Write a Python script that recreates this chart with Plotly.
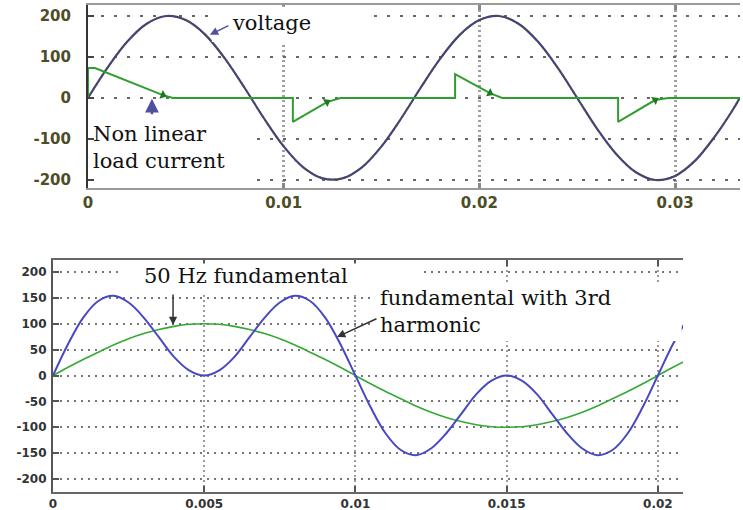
import plotly.graph_objects as go

# ---- upper panel: supply voltage and non-linear load current (60 Hz) ----
t_voltage = [0.000, 0.001, 0.002, 0.003, 0.004, 0.005, 0.006, 0.007, 0.008, 0.009,
             0.010, 0.011, 0.012, 0.013, 0.014, 0.015, 0.016, 0.017, 0.018, 0.019,
             0.020, 0.021, 0.022, 0.023, 0.024, 0.025, 0.026, 0.027, 0.028, 0.029,
             0.030, 0.031, 0.032, 0.033, 0.0333]
voltage = [0, 74, 137, 181, 200, 190, 154, 96, 25, -50,
           -118, -169, -196, -196, -169, -118, -50, 25, 96, 154,
           190, 200, 181, 137, 74, 0, -74, -137, -181, -200,
           -190, -154, -96, -25, 0]

t_current = [0.0, 0.0, 0.00036, 0.00383, 0.00434, 0.01047, 0.01047, 0.01221, 0.01290,
             0.01876, 0.01876, 0.02054, 0.02116, 0.02709, 0.02709, 0.02898, 0.02964, 0.0333]
current = [0, 73, 73, 7, 0, 0, -58, -10, 0,
           0, 58, 12, 0, 0, -58, -5, 0, 0]

# direction markers drawn on the current trace
t_current_arrow = [0.00383, 0.01221, 0.02054, 0.02898]
current_arrow = [7, -10, 12, -5]

top_x_ticks = [0, 0.01, 0.02, 0.03]
top_x_labels = ["0", "0.01", "0.02", "0.03"]
top_y_ticks = [-200, -100, 0, 100, 200]
top_y_labels = ["-200", "-100", "0", "100", "200"]

# ---- lower panel: 50 Hz fundamental and fundamental + 3rd harmonic ----
t_wave = [0.0000, 0.0005, 0.0010, 0.0015, 0.0020, 0.0025, 0.0030, 0.0035, 0.0040, 0.0045,
          0.0050, 0.0055, 0.0060, 0.0065, 0.0070, 0.0075, 0.0080, 0.0085, 0.0090, 0.0095,
          0.0100, 0.0105, 0.0110, 0.0115, 0.0120, 0.0125, 0.0130, 0.0135, 0.0140, 0.0145,
          0.0150, 0.0155, 0.0160, 0.0165, 0.0170, 0.0175, 0.0180, 0.0185, 0.0190, 0.0195,
          0.0200, 0.0205, 0.0210]
fundamental = [0, 16, 31, 45, 59, 71, 81, 89, 95, 99,
               100, 99, 95, 89, 81, 71, 59, 45, 31, 16,
               0, -16, -31, -45, -59, -71, -81, -89, -95, -99,
               -100, -99, -95, -89, -81, -71, -59, -45, -31, -16,
               0, 16, 31]
with_third = [0, 61, 112, 144, 154, 141, 112, 74, 36, 10,
              0, 10, 36, 74, 112, 141, 154, 144, 112, 61,
              0, -61, -112, -144, -154, -141, -112, -74, -36, -10,
              0, -10, -36, -74, -112, -141, -154, -144, -112, -61,
              0, 61, 112]

bot_x_ticks = [0, 0.005, 0.01, 0.015, 0.02]
bot_x_labels = ["0", "0.005", "0.01", "0.015", "0.02"]
bot_y_ticks = [-200, -150, -100, -50, 0, 50, 100, 150, 200]
bot_y_labels = ["-200", "-150", "-100", "-50", "0", "50", "100", "150", "200"]

fig = go.Figure()

# upper panel traces
fig.add_trace(go.Scatter(x=t_voltage, y=voltage, mode="lines", line_shape="spline",
                         line=dict(color="#4a4a4a", width=2.2), xaxis="x", yaxis="y",
                         hoverinfo="skip"))
fig.add_trace(go.Scatter(x=t_voltage, y=voltage, mode="lines", line_shape="spline",
                         line=dict(color="#3c3cc8", width=1.6, dash="2px,3px"),
                         xaxis="x", yaxis="y", hoverinfo="skip"))
fig.add_trace(go.Scatter(x=t_current, y=current, mode="lines",
                         line=dict(color="#2f9e2f", width=2), xaxis="x", yaxis="y",
                         hoverinfo="skip"))
fig.add_trace(go.Scatter(x=t_current_arrow, y=current_arrow, mode="markers",
                         marker=dict(symbol="triangle-right", size=8, color="#1f7a1f",
                                     angle=[22, -30, 28, -31]),
                         xaxis="x", yaxis="y", hoverinfo="skip"))

# lower panel traces
fig.add_trace(go.Scatter(x=t_wave, y=fundamental, mode="lines", line_shape="spline",
                         line=dict(color="#35a835", width=1.6), xaxis="x2", yaxis="y2",
                         hoverinfo="skip"))
fig.add_trace(go.Scatter(x=t_wave, y=with_third, mode="lines", line_shape="spline",
                         line=dict(color="#4848c4", width=2), xaxis="x2", yaxis="y2",
                         hoverinfo="skip"))

tick_font_top = dict(family="DejaVu Sans", size=15, color="#4d4d26", weight="bold")
tick_font_bot = dict(family="DejaVu Sans", size=12, color="#333333", weight="bold")

fig.update_layout(
    width=743, height=510,
    margin=dict(l=0, r=0, t=0, b=0, autoexpand=False),
    paper_bgcolor="white", plot_bgcolor="white",
    showlegend=False,
    xaxis=dict(domain=[0.1184, 0.9960], anchor="y", range=[0, 0.03332], automargin=False,
               tickmode="array", tickvals=top_x_ticks, ticktext=top_x_labels,
               tickfont=tick_font_top, showgrid=True, gridcolor="#a0a0a0",
               gridwidth=2.5, griddash="2px,3px", zeroline=False,
               showline=True, linecolor="#9a9a9a", linewidth=2, mirror="ticks",
               ticks="inside", ticklen=5, tickwidth=3, tickcolor="#888888"),
    yaxis=dict(domain=[0.6314, 0.9902], anchor="x", range=[-219.5, 226.8], automargin=False,
               tickmode="array", tickvals=top_y_ticks, ticktext=top_y_labels,
               tickfont=tick_font_top, ticklabelstandoff=12,
               showgrid=True, gridcolor="#666666", gridwidth=1.5, griddash="3px,10px",
               zeroline=False, showline=True, linecolor="#333333", linewidth=2,
               ticks="inside", ticklen=6, tickwidth=2, tickcolor="#444444"),
    xaxis2=dict(domain=[0.0713, 0.9192], anchor="y2", range=[0, 0.02083], automargin=False,
                tickmode="array", tickvals=bot_x_ticks, ticktext=bot_x_labels,
                tickfont=tick_font_bot, showgrid=True, gridcolor="#9a9a9a",
                gridwidth=1.5, griddash="2px,3px", zeroline=False,
                showline=True, linecolor="#666666", linewidth=2, mirror="ticks",
                ticks="inside", ticklen=6, tickwidth=2, tickcolor="#555555"),
    yaxis2=dict(domain=[0.0353, 0.4902], anchor="x2", range=[-225.1, 223.2], automargin=False,
                tickmode="array", tickvals=bot_y_ticks, ticktext=bot_y_labels,
                tickfont=tick_font_bot, ticklabelstandoff=2,
                showgrid=True, gridcolor="#777777", gridwidth=1.5, griddash="2px,5px",
                zeroline=False, showline=True, linecolor="#555555", linewidth=2,
                ticks="inside", ticklen=6, tickwidth=2, tickcolor="#555555"),
)

# white label backgrounds behind the captions
label_boxes = [
    ("x domain", "y domain", 0.190, 0.433, 0.798, 0.990),
    ("x domain", "y domain", 0.012, 0.250, 0.015, 0.383),
    ("x2 domain", "y2 domain", 0.106, 0.583, 0.858, 0.985),
    ("x2 domain", "y2 domain", 0.511, 0.998, 0.651, 0.905),
]
for xr, yr, x0, x1, y0, y1 in label_boxes:
    fig.add_shape(type="rect", xref=xr, yref=yr, x0=x0, x1=x1, y0=y0, y1=y1,
                  fillcolor="white", line=dict(width=0), layer="above")

caption_font = dict(family="DejaVu Serif", size=21, color="#111111")

captions = [
    ("x domain", "y domain", 0.218, 0.902, "voltage"),
    ("x domain", "y domain", 0.005, 0.219, "Non linear<br>load current"),
    ("x2 domain", "y2 domain", 0.141, 0.931, "50 Hz fundamental"),
    ("x2 domain", "y2 domain", 0.516, 0.776, "fundamental with 3rd<br>harmonic"),
]
for xr, yr, x, y, txt in captions:
    fig.add_annotation(xref=xr, yref=yr, x=x, y=y, text=txt, showarrow=False,
                       xanchor="left", yanchor="middle", align="left",
                       font=caption_font)

# pointer arrows from captions to curves
pointers = [
    ("x", "y", 0.00623, 154, 20, -10, "#5050a0", 1.5),
    ("x", "y", 0.00327, -2, 0, 17, "#5050a0", 2.5),
    ("x2", "y2", 0.00397, 97.6, 0, -32, "#333333", 1.5),
    ("x2", "y2", 0.00939, 74.4, 41, -19, "#333333", 1.5),
]
for xr, yr, x, y, ax, ay, col, w in pointers:
    fig.add_annotation(xref=xr, yref=yr, x=x, y=y, ax=ax, ay=ay, text="",
                       showarrow=True, arrowhead=2, arrowsize=1.1, arrowwidth=w,
                       arrowcolor=col)

fig.write_html("out.html")
